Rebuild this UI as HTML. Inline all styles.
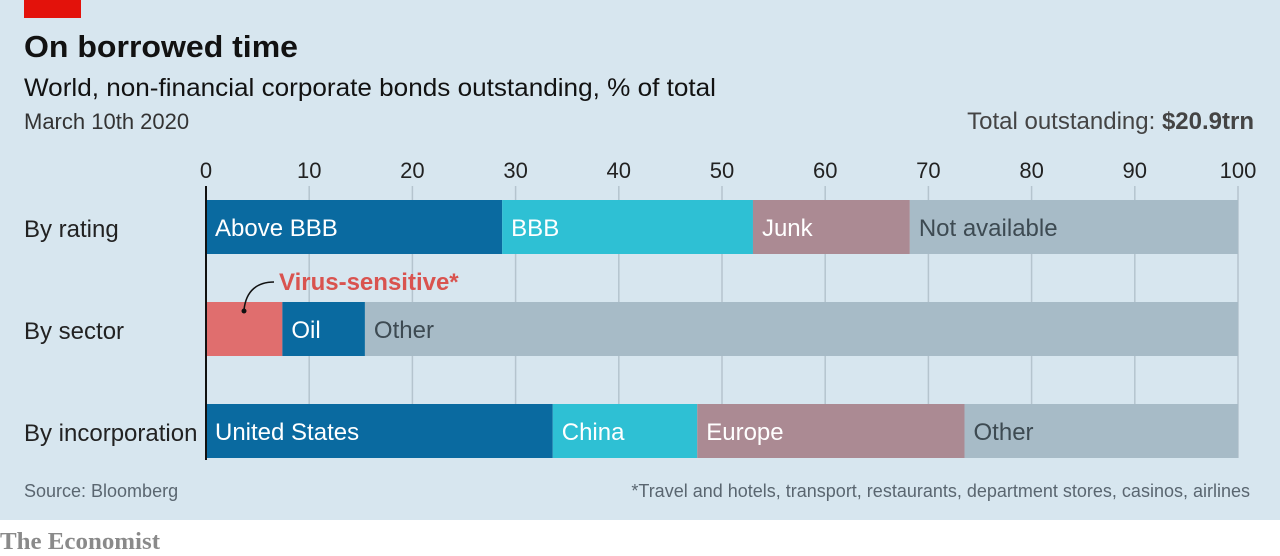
<!DOCTYPE html>
<html><head><meta charset="utf-8"><style>
html,body{margin:0;padding:0;width:1280px;height:556px;overflow:hidden;background:#fff;font-family:"Liberation Sans",sans-serif}
svg text{font-family:"Liberation Sans",sans-serif}
</style></head><body>
<svg id="c" width="1280" height="556" xmlns="http://www.w3.org/2000/svg">
<rect x="0" y="0" width="1280" height="520" fill="#d7e6ef"/>
<rect x="24" y="0" width="57" height="18" fill="#e3120b"/>
<text x="24" y="57" font-size="31" font-weight="bold" fill="#121212" textLength="274" lengthAdjust="spacingAndGlyphs">On borrowed time</text>
<text x="24" y="96" font-size="25" fill="#121212" textLength="692" lengthAdjust="spacingAndGlyphs">World, non-financial corporate bonds outstanding, % of total</text>
<text x="24" y="129" font-size="22" fill="#333">March 10th 2020</text>
<text x="1254" y="129" font-size="24" fill="#444" text-anchor="end">Total outstanding: <tspan font-weight="bold">$20.9trn</tspan></text>
<g id="grid"></g><g id="bars"></g>
<text x="24" y="497" font-size="18" fill="#5a6670">Source: Bloomberg</text>
<text x="1250" y="497" font-size="18" fill="#5a6670" text-anchor="end">*Travel and hotels, transport, restaurants, department stores, casinos, airlines</text>
<text x="0" y="549" font-size="24" font-weight="bold" fill="#8a8a8a" textLength="160" lengthAdjust="spacingAndGlyphs" style="font-family:'Liberation Serif',serif">The Economist</text>
</svg>
<script>
const ticks=[0,10,20,30,40,50,60,70,80,90,100];
const rows=["By rating","By sector","By incorporation"];
const ratingLabels=["Above BBB","BBB","Junk","Not available"];
const ratingValues=[28.7,24.3,15.2,31.8];
const sectorLabels=["","Oil","Other"];
const sectorValues=[7.4,8.0,84.6];
const incLabels=["United States","China","Europe","Other"];
const incValues=[33.6,14.0,25.9,26.5];
const colors4=["#0a6aa0","#2ec0d4","#ab8a93","#a7bbc7"];
const sectorColors=["#e06e6e","#0a6aa0","#a7bbc7"];
const textCol={"#0a6aa0":"#fff","#2ec0d4":"#fff","#ab8a93":"#fff","#a7bbc7":"#3d4a52","#e06e6e":"#fff"};
const NS="http://www.w3.org/2000/svg";
const x=v=>206+v*10.32;
const rowY=[200,302,404],bh=54;
function mk(t,a,p){const e=document.createElementNS(NS,t);for(const k in a)e.setAttribute(k,a[k]);p.appendChild(e);return e;}
const g=document.getElementById('grid'),b=document.getElementById('bars');
ticks.forEach(t=>{
 if(t>0){const l=mk('line',{x1:x(t),x2:x(t),y1:186,y2:458,stroke:'#b5c4ce','stroke-width':1.5},g);
 
 }
 const tx=mk('text',{x:x(t),y:178,'font-size':22,fill:'#222','text-anchor':'middle'},g);tx.textContent=t;
 
 
});
const sets=[[ratingValues,ratingLabels,colors4],[sectorValues,sectorLabels,sectorColors],[incValues,incLabels,colors4]];
sets.forEach((s,i)=>{
 const lab=mk('text',{x:24,y:rowY[i]+37,'font-size':24,fill:'#222'},b);lab.textContent=rows[i];
 
 
 let acc=0;
 s[0].forEach((v,j)=>{
  const r=mk('rect',{x:x(acc),y:rowY[i],width:x(acc+v)-x(acc),height:bh,fill:s[2][j]},b);
  
  
  if(s[1][j]){const t=mk('text',{x:x(acc)+9,y:rowY[i]+36,'font-size':24,fill:textCol[s[2][j]]},b);t.textContent=s[1][j];
  
  }
  acc+=v;
 });
});
const ax=mk('line',{x1:206,x2:206,y1:186,y2:460,stroke:'#111','stroke-width':2},b);


const vs=mk('text',{x:279,y:290,'font-size':24,'font-weight':'bold',fill:'#d9534f'},b);vs.textContent='Virus-sensitive*';


const p=mk('path',{d:'M274 282 C258 282 246 290 244 310',fill:'none',stroke:'#111','stroke-width':1.5},b);


const d=mk('circle',{cx:244,cy:311,r:2.5,fill:'#111'},b);


</script>
</body></html>
